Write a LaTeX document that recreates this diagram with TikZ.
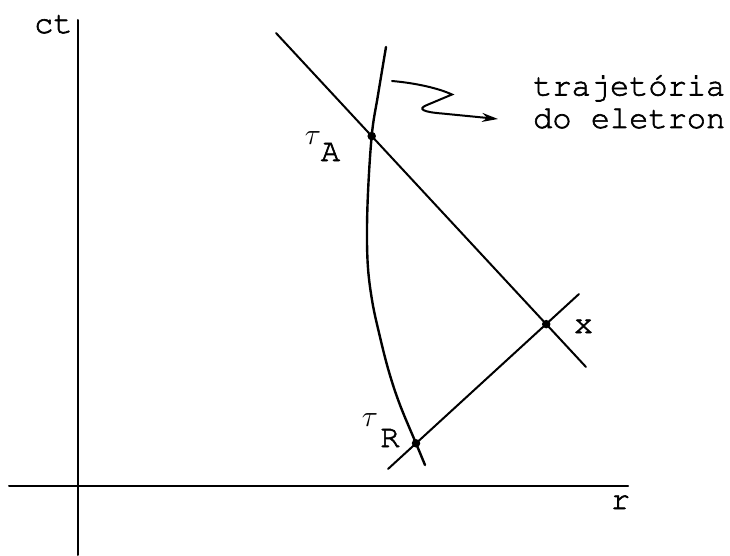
\RequirePackage{fix-cm}
\documentclass[tikz,border=0pt]{standalone}
\usepackage{fontspec}
\newcommand{\cour}{\fontencoding{T1}\fontfamily{pcr}\fontsize{32}{32}\selectfont}
\newcommand{\thk}[1]{\special{pdf:literal direct 2 Tr 0.6 w}#1\special{pdf:literal direct 0 Tr}}
\usetikzlibrary{arrows.meta}
\begin{document}
\begin{tikzpicture}[x=1pt,y=-1pt, line cap=round,
  ln/.style={line width=2pt},
  traj/.style={line width=2.4pt},
  lbl/.style={font=\cour, inner sep=0pt, anchor=base},
  taulbl/.style={font=\fontsize{30}{30}\selectfont, inner sep=0pt},
  dot/.style={circle, fill, inner sep=0pt, minimum size=8.5pt},
  wiggle/.style={line width=2pt, -{Stealth[length=16pt,width=9pt]}}]
\useasboundingbox (0,0) rectangle (730,556);
% axes
\coordinate (vtop) at (78,20);
\coordinate (vbot) at (78,555);
\coordinate (hl) at (9,486);
\coordinate (hr) at (628,486);
\draw[ln] (vbot) -- (vtop);
\draw[ln] (hl) -- (hr);
\node[lbl, anchor=base west] (ct) at (34,33) {\thk{ct}};
\node[lbl] (r) at (620.5,509) {\thk{r}};
% light lines
\coordinate (L1a) at (276,33);
\coordinate (L1b) at (586,367);
\coordinate (L2a) at (388,469);
\coordinate (L2b) at (579,294);
\draw[ln] (L1a) -- (L1b);
\draw[ln] (L2a) -- (L2b);
% electron trajectory
\draw[traj] plot[smooth, tension=0.6] coordinates {(386,47) (378,95) (371.7,136) (367.5,205) (367.5,260) (372,300) (380,337) (389,372) (400,405) (416,443.3) (425,465)};
% points
\node[dot] (tA) at (371.7,136.1) {};
\node[dot] (tR) at (416,443.3) {};
\node[dot] (X) at (intersection of L1a--L1b and L2a--L2b) {};
% labels
\node[taulbl] (tauA) at (313,138) {$\tau$};
\node[lbl] (A) at (330.5,161) {\thk{A}};
\node[taulbl] (tauR) at (370,420) {$\tau$};
\node[lbl] (R) at (390,447) {\thk{R}};
\node[lbl] (x) at (583.5,333) {\thk{x}};
\node[lbl, anchor=base west] (t1) at (533,95.5) {\thk{trajet\'oria}};
\node[lbl, anchor=base west] (t2) at (533,128) {\thk{do eletron}};
% wiggly arrow
\coordinate (w0) at (392,81);
\coordinate (w1) at (452,94.5);
\coordinate (w2) at (427,105);
\coordinate (w3) at (498,119);
\draw[wiggle] (w0) .. controls (415,83) and (438,88) .. (w1) -- (w2) .. controls (417,109) and (423,112) .. (442,113.5) -- (w3);
\end{tikzpicture}
\end{document}
